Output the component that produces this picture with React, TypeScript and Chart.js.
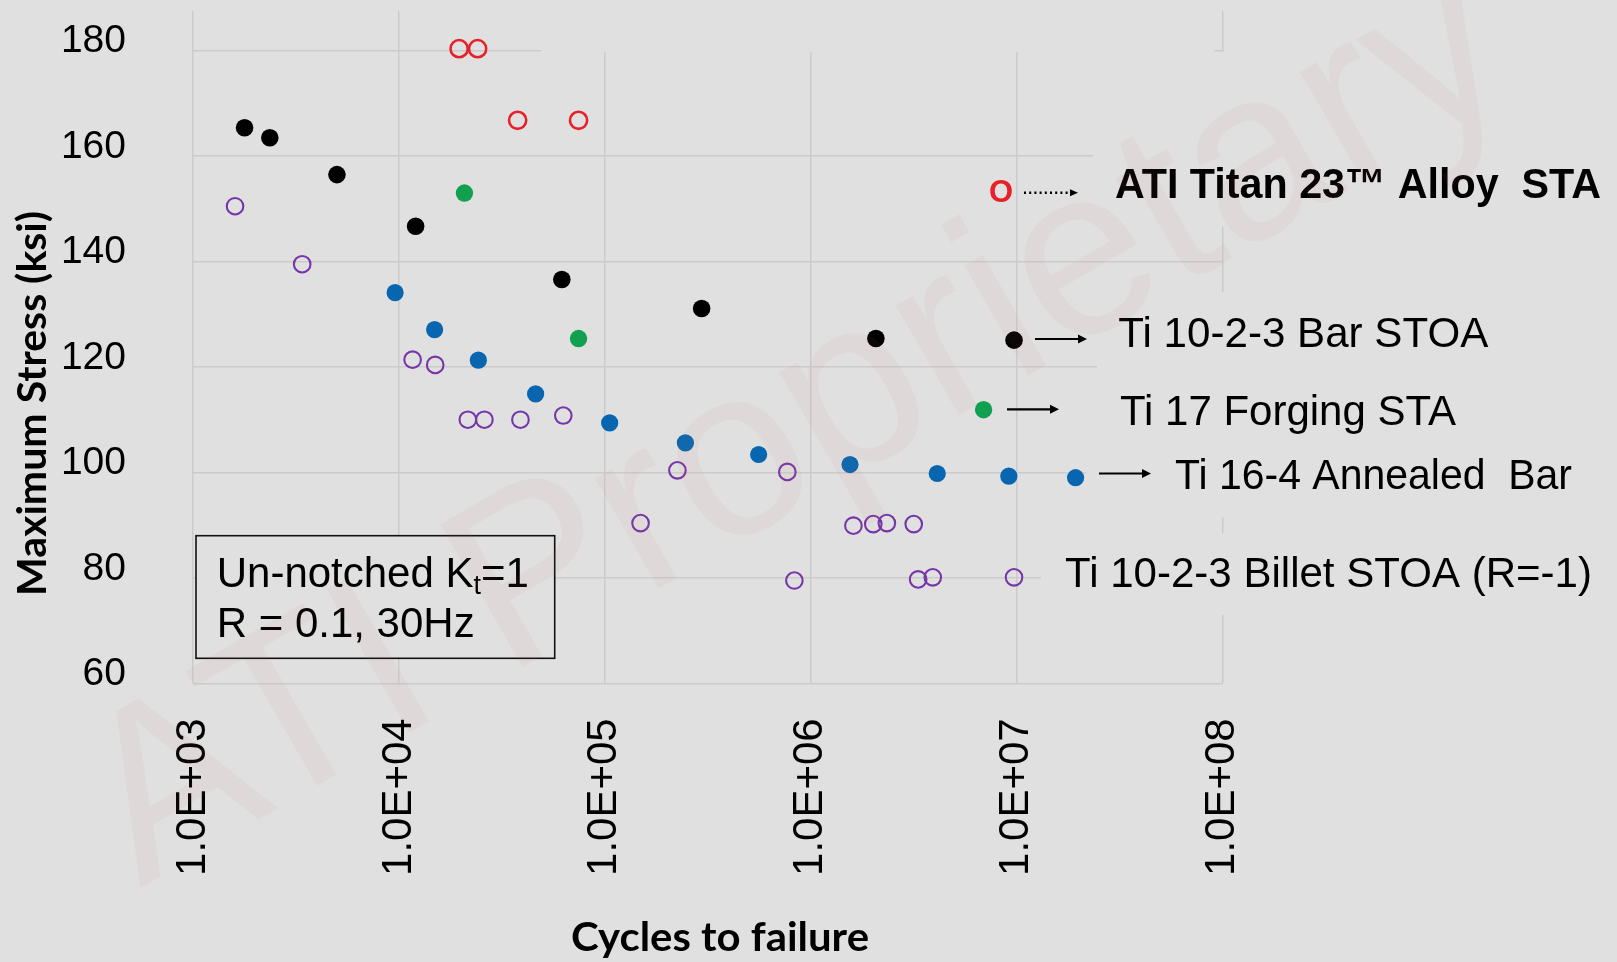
import React, { useEffect, useRef } from "react";
import { Chart, registerables } from "chart.js";

Chart.register(...registerables);

// ---------------- data ----------------
const xTickValues = [1e3, 1e4, 1e5, 1e6, 1e7, 1e8];
const xTickLabels = ["1.0E+03", "1.0E+04", "1.0E+05", "1.0E+06", "1.0E+07", "1.0E+08"];
const yTickValues = [60, 80, 100, 120, 140, 160, 180];

const seriesNames = [
  "Ti 10-2-3 Bar STOA",
  "Ti 17 Forging STA",
  "Ti 16-4 Annealed Bar",
  "Ti 10-2-3 Billet STOA (R=-1)",
  "ATI Titan 23\u2122 Alloy STA",
];

const barStoaCycles = [1780, 2360, 5000, 12050, 61800, 295000, 2070000, 9700000];
const barStoaStress = [165.4, 163.5, 156.5, 146.7, 136.6, 131.1, 125.4, 125.1];

const ti17Cycles = [20800, 74500, 6900000];
const ti17Stress = [153.0, 125.4, 111.9];

const ti164Cycles = [9580, 14900, 24300, 46100, 105500, 246000, 558000, 1550000, 4110000, 9150000, 19300000];
const ti164Stress = [134.1, 127.1, 121.3, 114.9, 109.4, 105.6, 103.4, 101.5, 99.8, 99.3, 99.0];

const billetCycles = [1600, 3390, 11650, 15000, 21600, 26000, 38900, 62800, 149000, 225000, 769000, 832000, 1610000, 2010000, 2340000, 3160000, 3320000, 3910000, 9700000];
const billetStress = [150.5, 139.5, 121.4, 120.4, 110.0, 110.0, 110.0, 110.8, 90.4, 100.4, 100.1, 79.5, 89.9, 90.2, 90.4, 90.2, 79.7, 80.1, 80.1];

const titanCycles = [19600, 24100, 37700, 74500];
const titanStress = [180.4, 180.4, 166.8, 166.8];

// ---------------- style ----------------
const W = 1617;
const H = 962;
const BG = "#e0e0e0";
const GRID = "#cbcbcb";
const ARIAL = '"Liberation Sans", Arial, sans-serif';
const TITLE_FONT = 'Lato, "Open Sans", sans-serif';

const toPoints = (xs: number[], ys: number[]) => xs.map((x, i) => ({ x, y: ys[i] }));

function fitText(ctx: CanvasRenderingContext2D, text: string, x: number, y: number, width: number) {
  const w = ctx.measureText(text).width;
  ctx.save();
  ctx.translate(x, y);
  ctx.scale(width / w, 1);
  ctx.fillText(text, 0, 0);
  ctx.restore();
}

function arrow(ctx: CanvasRenderingContext2D, x1: number, x2: number, y: number, dotted: boolean) {
  const head = dotted ? 8 : 9;
  const half = dotted ? 3.5 : 4.5;
  ctx.save();
  ctx.strokeStyle = "#000";
  ctx.fillStyle = "#000";
  ctx.lineWidth = dotted ? 2.4 : 2.2;
  if (dotted) ctx.setLineDash([2, 3.2]);
  ctx.beginPath();
  ctx.moveTo(x1, y);
  ctx.lineTo(x2 - head, y);
  ctx.stroke();
  ctx.setLineDash([]);
  ctx.beginPath();
  ctx.moveTo(x2 - head, y - half);
  ctx.lineTo(x2, y);
  ctx.lineTo(x2 - head, y + half);
  ctx.closePath();
  ctx.fill();
  ctx.restore();
}

const decorPlugin = {
  id: "decor",
  beforeDraw(chart: any) {
    const ctx = chart.ctx as CanvasRenderingContext2D;
    ctx.save();
    ctx.fillStyle = BG;
    ctx.fillRect(0, 0, chart.width, chart.height);
    ctx.restore();
  },
  beforeDatasetsDraw(chart: any) {
    const ctx = chart.ctx as CanvasRenderingContext2D;
    ctx.save();
    // opaque text boxes that hide parts of the grid
    ctx.fillStyle = BG;
    ctx.fillRect(541, 0, 673, 52);
    ctx.fillRect(1093, 52, 600, 175);
    ctx.fillRect(1097, 292, 600, 88);
    ctx.fillRect(1086, 380, 600, 137);
    ctx.fillRect(1041, 533, 600, 82);

    // note box
    ctx.fillRect(196, 535.7, 358.7, 122.6);
    ctx.strokeStyle = "#111";
    ctx.lineWidth = 1.6;
    ctx.strokeRect(196, 535.7, 358.7, 122.6);
    ctx.fillStyle = "#000";
    ctx.textBaseline = "alphabetic";
    ctx.textAlign = "left";
    ctx.font = `42px ${ARIAL}`;
    const p1 = "Un-notched K";
    ctx.fillText(p1, 216.7, 586.7);
    let x = 216.7 + ctx.measureText(p1).width;
    ctx.font = `27px ${ARIAL}`;
    ctx.fillText("t", x, 594);
    x += ctx.measureText("t").width;
    ctx.font = `42px ${ARIAL}`;
    ctx.fillText("=1", x, 586.7);
    ctx.fillText("R = 0.1, 30Hz", 216.7, 637.3);
    ctx.restore();
  },
  afterDatasetsDraw(chart: any) {
    const ctx = chart.ctx as CanvasRenderingContext2D;
    ctx.save();
    ctx.fillStyle = "#000";
    ctx.textAlign = "left";
    ctx.textBaseline = "alphabetic";

    // series annotations
    ctx.font = `bold 31px ${ARIAL}`;
    ctx.fillStyle = "#e8202a";
    ctx.textAlign = "center";
    ctx.textBaseline = "middle";
    ctx.fillText("O", 1001, 193);
    ctx.fillStyle = "#000";
    ctx.textAlign = "left";
    ctx.textBaseline = "alphabetic";
    arrow(ctx, 1024, 1078, 192.7, true);
    ctx.font = `bold 42px ${ARIAL}`;
    fitText(ctx, "ATI Titan 23\u2122 Alloy  STA", 1115, 198.3, 486);

    ctx.font = `42px ${ARIAL}`;
    arrow(ctx, 1035, 1087, 339, false);
    fitText(ctx, seriesNames[0], 1118.3, 346.7, 370);

    arrow(ctx, 1007, 1059, 409.3, false);
    fitText(ctx, seriesNames[1], 1120, 425, 336);

    arrow(ctx, 1099, 1151, 473.5, false);
    fitText(ctx, "Ti 16-4 Annealed  Bar", 1175, 489, 397);

    fitText(ctx, seriesNames[3], 1065, 586.7, 527);

    // axis titles
    ctx.font = `bold 40px ${TITLE_FONT}`;
    ctx.save();
    ctx.translate(33.5, 403.5);
    ctx.rotate(-Math.PI / 2);
    ctx.textAlign = "left";
    ctx.textBaseline = "middle";
    fitText(ctx, "Maximum Stress (ksi)", -192.5, 0, 385);
    ctx.restore();
    ctx.font = `bold 41px ${TITLE_FONT}`;
    fitText(ctx, "Cycles to failure", 571, 951, 298);
    ctx.restore();
  },
  afterDraw(chart: any) {
    const ctx = chart.ctx as CanvasRenderingContext2D;
    ctx.save();
    ctx.translate(140, 888);
    ctx.rotate(-Math.PI / 6);
    ctx.font = `240px ${ARIAL}`;
    ctx.fillStyle = "rgba(210,120,110,0.06)";
    ctx.textAlign = "left";
    ctx.textBaseline = "alphabetic";
    ctx.fillText("ATI Proprietary", 0, 0);
    ctx.restore();
  },
};

export default function App() {
  const ref = useRef<HTMLCanvasElement>(null);

  useEffect(() => {
    if (!ref.current) return;
    const solid = (label: string, xs: number[], ys: number[], color: string, r: number) => ({
      label,
      data: toPoints(xs, ys),
      pointStyle: "circle",
      pointRadius: r,
      pointHoverRadius: r,
      pointBackgroundColor: color,
      pointBorderColor: color,
      pointBorderWidth: 0,
      showLine: false,
    });
    const open = (label: string, xs: number[], ys: number[], color: string, r: number, bw: number) => ({
      label,
      data: toPoints(xs, ys),
      pointStyle: "circle",
      pointRadius: r,
      pointHoverRadius: r,
      pointBackgroundColor: "rgba(0,0,0,0)",
      pointBorderColor: color,
      pointBorderWidth: bw,
      showLine: false,
    });

    const chart = new Chart(ref.current, {
      type: "scatter",
      data: {
        datasets: [
          open(seriesNames[3], billetCycles, billetStress, "#7636a8", 8.3, 2.1),
          solid(seriesNames[2], ti164Cycles, ti164Stress, "#0866b0", 8.6),
          solid(seriesNames[1], ti17Cycles, ti17Stress, "#10a04f", 8.7),
          solid(seriesNames[0], barStoaCycles, barStoaStress, "#000000", 8.8),
          open(seriesNames[4], titanCycles, titanStress, "#e8202a", 8.6, 2.6),
        ] as any,
      },
      options: {
        responsive: false,
        animation: false,
        devicePixelRatio: 1,
        layout: { padding: { left: 0, top: 8, right: W - 1222.7, bottom: 0 } },
        plugins: {
          legend: { display: false },
          tooltip: { enabled: false },
        },
        scales: {
          x: {
            type: "logarithmic",
            min: 1e3,
            max: 1e8,
            afterBuildTicks: (s: any) => {
              s.ticks = xTickValues.map((v) => ({ value: v }));
            },
            afterFit: (s: any) => {
              s.height = H - 683.3;
              s.paddingLeft = 0;
              s.paddingRight = 0;
            },
            ticks: {
              autoSkip: false,
              minRotation: 90,
              maxRotation: 90,
              padding: 35,
              color: "#000",
              font: { family: ARIAL, size: 42 },
              callback: (_v: any, i: number) => xTickLabels[i],
            },
            grid: { color: GRID, lineWidth: 1.5, drawTicks: false },
            border: { display: false },
          },
          y: {
            type: "linear",
            min: 60,
            max: 187.5,
            afterBuildTicks: (s: any) => {
              s.ticks = yTickValues.map((v) => ({ value: v }));
            },
            afterFit: (s: any) => {
              s.width = 193;
              s.paddingTop = 0;
              s.paddingBottom = 0;
            },
            ticks: {
              padding: 67,
              labelOffset: -9,
              color: "#000",
              font: { family: ARIAL, size: 39 },
              callback: (v: any) => String(v),
            },
            grid: { color: GRID, lineWidth: 1.5, drawTicks: false },
            border: { display: false },
          },
        },
      } as any,
      plugins: [decorPlugin],
    });
    return () => chart.destroy();
  }, []);

  return (
    <div style={{ position: "fixed", left: 0, top: 0, width: W, height: H, background: BG }}>
      <canvas ref={ref} width={W} height={H} style={{ display: "block", width: W, height: H }} />
    </div>
  );
}
